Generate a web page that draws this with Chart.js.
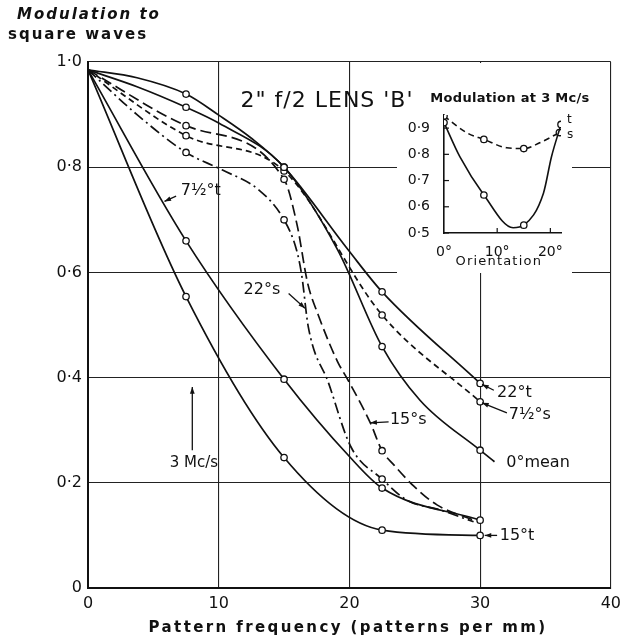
<!DOCTYPE html>
<html>
<head>
<meta charset="utf-8">
<script src="https://cdn.jsdelivr.net/npm/chart.js@4"></script>
<style>
  body { margin: 0; background: #fff; }
  #wrap { position: relative; width: 627px; height: 642px; }
  #inset { position: absolute; left: 380px; top: 63px; }
</style>
</head>
<body>
<div id="wrap">
  <canvas id="main" width="627" height="642"></canvas>
  <canvas id="inset" width="220" height="212"></canvas>
</div>
<script>
// Main chart: modulation to square waves vs pattern frequency (patterns per mm)
// points; only some of them carry a circle
const t22X = [0, 3.75, 7.5, 10, 12.5, 15, 19.9, 22.5, 30]
const t22Y = [0.985, 0.97, 0.939, 0.899, 0.855, 0.8, 0.643, 0.563, 0.389]
const mean0X = [0, 3.75, 7.5, 10, 15, 19.1, 22.5, 25.4, 30, 31.1]
const mean0Y = [0.985, 0.953, 0.914, 0.884, 0.8, 0.643, 0.459, 0.357, 0.262, 0.24]
const s7X = [0, 7.5, 15, 22.5, 30]
const s7Y = [0.985, 0.86, 0.793, 0.519, 0.354]
const s15X = [0, 7.5, 15, 16, 16.8, 17.6, 19.1, 19.9, 21.6, 22.5, 23.4, 24.95, 26.7, 29.5]
const s15Y = [0.985, 0.879, 0.777, 0.69, 0.58, 0.52, 0.43, 0.395, 0.314, 0.261, 0.234, 0.193, 0.158, 0.129]
const s22X = [0, 3.75, 7.5, 10.25, 13.06, 15, 15.95, 16.35, 16.85, 18.4, 20.1, 22.5, 24.4, 27, 29.5]
const s22Y = [0.985, 0.9, 0.828, 0.795, 0.757, 0.7, 0.643, 0.595, 0.497, 0.39, 0.269, 0.207, 0.167, 0.148, 0.126]
const t7X = [0, 7.5, 15, 20, 22.5, 30]
const t7Y = [0.985, 0.66, 0.397, 0.25, 0.19, 0.129]
const t15X = [0, 7.5, 15, 22.5, 30]
const t15Y = [0.985, 0.554, 0.248, 0.11, 0.1]

const xTicks = [0, 10, 20, 30, 40]
const yTicks = [0, 0.2, 0.4, 0.6, 0.8, 1.0]

// Inset: modulation at 3 Mc/s vs orientation (degrees)
const insetTX = [0, 3, 7.5, 13, 15, 18.7, 20.2, 22]
const insetTY = [0.921, 0.79, 0.645, 0.52, 0.53, 0.652, 0.79, 0.914]
const insetSX = [0, 4.3, 7.5, 11.8, 15, 18, 21.7]
const insetSY = [0.946, 0.882, 0.857, 0.825, 0.822, 0.844, 0.883]
const insetXTicks = [0, 10, 20]
const insetYTicks = [0.5, 0.6, 0.7, 0.8, 0.9]

const INK = '#111'
const FONT = '"DejaVu Sans", sans-serif'

function makeSet(xs, ys, marked, dash, width) {
    return {
        data: xs.map((x, i) => ({ x: x, y: ys[i] })),
        showLine: true,
        borderColor: INK,
        borderWidth: width || 1.7,
        borderDash: dash,
        cubicInterpolationMode: 'monotone',
        pointRadius: xs.map((x) => (marked.includes(x) ? 3.2 : 0)),
        pointBackgroundColor: '#fff',
        pointBorderColor: INK,
        pointBorderWidth: 1.3
    }
}

function fmt(v) {
    if (Math.abs(v) < 1e-9) return '0'
    return v.toFixed(1).replace('.', '·')
}

function arrow(ctx, x1, y1, x2, y2) {
    ctx.beginPath()
    ctx.moveTo(x1, y1)
    ctx.lineTo(x2, y2)
    ctx.stroke()
    const a = Math.atan2(y2 - y1, x2 - x1)
    ctx.beginPath()
    ctx.moveTo(x2, y2)
    ctx.lineTo(x2 - 7 * Math.cos(a - 0.35), y2 - 7 * Math.sin(a - 0.35))
    ctx.lineTo(x2 - 7 * Math.cos(a + 0.35), y2 - 7 * Math.sin(a + 0.35))
    ctx.closePath()
    ctx.fill()
}

// labels, arrows and the white box behind the inset
const mainLabels = {
    id: 'mainLabels',
    beforeDatasetsDraw(chart) {
        const ctx = chart.ctx
        ctx.save()
        ctx.fillStyle = '#fff'
        ctx.fillRect(397, 63, 175, 210)
        ctx.restore()
    },
    afterDraw(chart) {
        const ctx = chart.ctx
        const X = (v) => chart.scales.x.getPixelForValue(v)
        const Y = (v) => chart.scales.y.getPixelForValue(v)
        ctx.save()
        ctx.fillStyle = INK
        ctx.strokeStyle = INK
        ctx.lineWidth = 1.3
        ctx.textBaseline = 'middle'

        // axis titles
        ctx.textAlign = 'left'
        ctx.font = 'italic bold 15px ' + FONT
        ctx.letterSpacing = '2px'
        ctx.fillText('Modulation to', 17, 15)
        ctx.font = 'bold 15px ' + FONT
        ctx.fillText('square waves', 8, 35)
        ctx.textAlign = 'center'
        ctx.letterSpacing = '2.4px'
        ctx.fillText('Pattern frequency (patterns per mm)', 348, 628)

        // title
        ctx.letterSpacing = '1px'
        ctx.font = '22px ' + FONT
        ctx.fillText('2" f/2 LENS \'B\'', 327, 101)

        // curve labels
        ctx.letterSpacing = '0px'
        ctx.font = '16px ' + FONT
        ctx.textAlign = 'left'
        ctx.fillText('7½°t', X(7.1), Y(0.755))
        arrow(ctx, X(6.74), Y(0.745), X(5.85), Y(0.735))
        ctx.fillText('22°s', X(11.9), Y(0.567))
        arrow(ctx, X(15.35), Y(0.56), X(16.6), Y(0.532))
        ctx.fillText('15°s', X(23.1), Y(0.32))
        arrow(ctx, X(23.0), Y(0.316), X(21.6), Y(0.314))
        ctx.fillText('22°t', X(31.3), Y(0.371))
        arrow(ctx, X(31.05), Y(0.376), X(30.15), Y(0.387))
        ctx.fillText('7½°s', X(32.2), Y(0.33))
        arrow(ctx, X(32.05), Y(0.333), X(30.15), Y(0.352))
        ctx.fillText('0°mean', X(32.0), Y(0.238))
        ctx.fillText('15°t', X(31.5), Y(0.1))
        arrow(ctx, X(31.3), Y(0.1), X(30.35), Y(0.1))

        // 3 Mc/s marker
        ctx.textAlign = 'center'
        ctx.font = '15px ' + FONT
        ctx.fillText('3 Mc/s', X(8.1), Y(0.238))
        arrow(ctx, X(7.98), Y(0.262), X(7.98), Y(0.382))
        ctx.restore()
    }
}

new Chart(document.getElementById('main'), {
    type: 'scatter',
    data: {
        datasets: [
            makeSet(t22X, t22Y, [7.5, 15, 22.5, 30], []),
            makeSet(mean0X, mean0Y, [7.5, 15, 22.5, 30], []),
            makeSet(s7X, s7Y, [7.5, 15, 22.5, 30], [6, 4]),
            makeSet(s15X, s15Y, [7.5, 15, 22.5], [11, 5]),
            makeSet(s22X, s22Y, [7.5, 15, 22.5], [11, 4, 2, 4]),
            makeSet(t7X, t7Y, [7.5, 15, 22.5, 30], []),
            makeSet(t15X, t15Y, [7.5, 15, 22.5, 30], [])
        ]
    },
    options: {
        responsive: false,
        animation: false,
        layout: { padding: { top: 62, right: 12, left: 0, bottom: 0 } },
        plugins: { legend: { display: false }, tooltip: { enabled: false } },
        scales: {
            x: {
                type: 'linear',
                min: 0,
                max: 40,
                afterBuildTicks: (s) => { s.ticks = xTicks.map((v) => ({ value: v })) },
                afterFit: (s) => { s.height = 54 },
                ticks: { color: INK, padding: 6, font: { family: FONT, size: 16 }, callback: (v) => String(v) },
                grid: { color: '#222', lineWidth: 1.1, drawTicks: false },
                border: { color: INK, width: 2 }
            },
            y: {
                min: 0,
                max: 1,
                afterBuildTicks: (s) => { s.ticks = yTicks.map((v) => ({ value: v })) },
                afterFit: (s) => { s.width = 88 },
                ticks: { color: INK, padding: 6, font: { family: FONT, size: 16 }, callback: fmt },
                grid: { color: '#222', lineWidth: 1.1, drawTicks: false },
                border: { color: INK, width: 2 }
            }
        }
    },
    plugins: [mainLabels]
})

// inward ticks and texts of the inset
const insetDeco = {
    id: 'insetDeco',
    afterDraw(chart) {
        const ctx = chart.ctx
        const a = chart.chartArea
        const X = (v) => chart.scales.x.getPixelForValue(v)
        const Y = (v) => chart.scales.y.getPixelForValue(v)
        ctx.save()
        ctx.strokeStyle = INK
        ctx.fillStyle = INK
        ctx.lineWidth = 1.2
        insetYTicks.forEach((v) => {
            ctx.beginPath()
            ctx.moveTo(a.left, Y(v))
            ctx.lineTo(a.left + 5, Y(v))
            ctx.stroke()
        })
        insetXTicks.slice(1).forEach((v) => {
            ctx.beginPath()
            ctx.moveTo(X(v), a.bottom)
            ctx.lineTo(X(v), a.bottom - 5)
            ctx.stroke()
        })
        ctx.textBaseline = 'middle'
        ctx.textAlign = 'center'
        ctx.font = 'bold 13px ' + FONT
        ctx.letterSpacing = '0.3px'
        ctx.fillText('Modulation at 3 Mc/s', 130, 36)
        ctx.font = '13px ' + FONT
        ctx.letterSpacing = '1.2px'
        ctx.fillText('Orientation', X(10.3), 199)
        ctx.letterSpacing = '0px'
        ctx.textAlign = 'left'
        ctx.font = '12px ' + FONT
        ctx.fillText('t', a.right + 6, Y(0.93))
        ctx.fillText('s', a.right + 6, Y(0.875))
        ctx.restore()
    }
}

new Chart(document.getElementById('inset'), {
    type: 'scatter',
    data: {
        datasets: [
            makeSet(insetTX, insetTY, [0, 7.5, 15, 22], [], 1.6),
            makeSet(insetSX, insetSY, [0, 7.5, 15, 21.7], [6, 4], 1.6)
        ]
    },
    options: {
        responsive: false,
        animation: false,
        layout: { padding: { top: 52, right: 39, left: 0, bottom: 0 } },
        plugins: { legend: { display: false }, tooltip: { enabled: false } },
        scales: {
            x: {
                type: 'linear',
                min: 0,
                max: 22,
                afterBuildTicks: (s) => { s.ticks = insetXTicks.map((v) => ({ value: v })) },
                afterFit: (s) => { s.height = 42 },
                ticks: { color: INK, padding: 3, font: { family: FONT, size: 14 }, callback: (v) => v + '°' },
                grid: { display: false },
                border: { color: INK, width: 1.6 }
            },
            y: {
                min: 0.5,
                max: 0.95,
                afterBuildTicks: (s) => { s.ticks = insetYTicks.map((v) => ({ value: v })) },
                afterFit: (s) => { s.width = 64 },
                ticks: { color: INK, padding: 6, font: { family: FONT, size: 14 }, callback: fmt },
                grid: { display: false },
                border: { color: INK, width: 1.6 }
            }
        }
    },
    plugins: [insetDeco]
})
</script>
</body>
</html>
